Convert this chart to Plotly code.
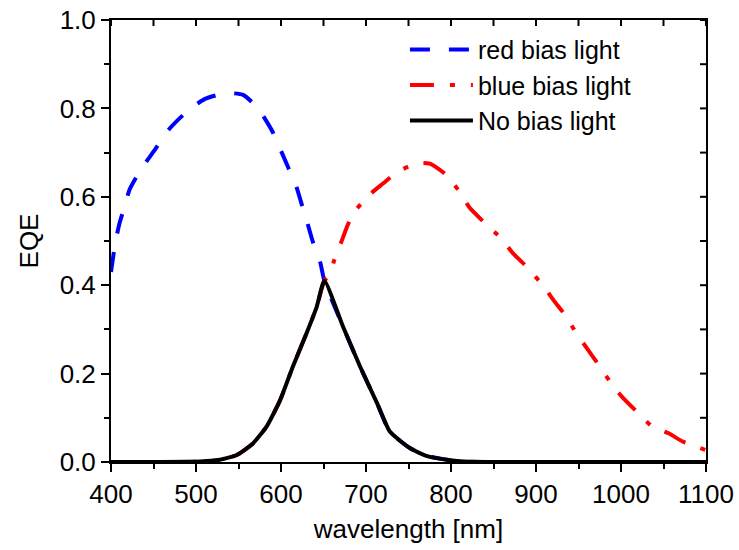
import plotly.graph_objects as go

# ---- data ----
red_bias_x = [400, 405, 410, 416, 422, 436, 450, 467, 486, 510, 531, 545, 556, 573, 589, 598,
              609, 617, 625, 631, 638, 646, 651, 673, 693, 713, 728, 752, 771, 799, 815, 850,
              900, 950, 1000, 1050, 1100]
red_bias_y = [0.43, 0.495, 0.54, 0.578, 0.617, 0.664, 0.702, 0.750, 0.787, 0.821, 0.833, 0.834,
              0.830, 0.800, 0.751, 0.713, 0.664, 0.629, 0.579, 0.541, 0.495, 0.453, 0.41, 0.306,
              0.216, 0.133, 0.069, 0.031, 0.014, 0.004, 0.001, 0.0, 0.0, 0.0, 0.0, 0.0, 0.0]

blue_bias_x = [400, 450, 505, 528, 548, 567, 583, 599, 614, 630, 642, 651, 658, 662, 671, 677,
               685, 705, 720, 736, 760, 775, 793, 811, 822, 838, 860, 873, 890, 909, 921, 934,
               948, 960, 971, 987, 1001, 1019, 1037, 1056, 1073, 1100]
blue_bias_y = [0.0, 0.0, 0.001, 0.005, 0.016, 0.042, 0.080, 0.140, 0.216, 0.291, 0.351, 0.41,
               0.425, 0.453, 0.498, 0.529, 0.563, 0.606, 0.630, 0.655, 0.676, 0.675, 0.652, 0.609,
               0.575, 0.544, 0.504, 0.472, 0.440, 0.397, 0.365, 0.333, 0.290, 0.257, 0.227, 0.182,
               0.148, 0.113, 0.080, 0.065, 0.046, 0.027]

no_bias_x = [400, 450, 505, 528, 548, 567, 583, 599, 614, 630, 642, 651, 673, 693, 713, 728,
             752, 771, 799, 815, 850, 900, 1000, 1100]
no_bias_y = [0.0, 0.0, 0.001, 0.005, 0.016, 0.042, 0.080, 0.140, 0.216, 0.291, 0.351, 0.41,
             0.306, 0.216, 0.133, 0.069, 0.031, 0.014, 0.004, 0.001, 0.0, 0.0, 0.0, 0.0]

x_ticks = [400, 500, 600, 700, 800, 900, 1000, 1100]
y_ticks = [0.0, 0.2, 0.4, 0.6, 0.8, 1.0]
x_mirror_ticks = [400, 450, 500, 550, 600, 650, 700, 750, 800, 850, 900, 950, 1000, 1050, 1100]
y_mirror_ticks = [0.0, 0.1, 0.2, 0.3, 0.4, 0.5, 0.6, 0.7, 0.8, 0.9, 1.0]

FONT = "Arial, Liberation Sans, sans-serif"
PLOT_W, PLOT_H = 595, 442
MIRROR_LEN = 6

fig = go.Figure()
fig.add_trace(go.Scatter(x=red_bias_x, y=red_bias_y, mode="lines", name="red bias light",
                         line=dict(color="#0000ff", width=4, dash="20px,19px",
                                   shape="spline", smoothing=0.6)))
fig.add_trace(go.Scatter(x=blue_bias_x, y=blue_bias_y, mode="lines", name="blue bias light",
                         line=dict(color="#ff0000", width=4, dash="24px,16px,5px,16px",
                                   shape="spline", smoothing=0.6)))
fig.add_trace(go.Scatter(x=no_bias_x, y=no_bias_y, mode="lines", name="No bias light",
                         line=dict(color="#000000", width=4, shape="spline", smoothing=0.5)))

# inward-pointing tick marks on the top and right frame edges, placed via the axis scales
for xv in x_mirror_ticks:
    fig.add_shape(type="line", xref="x", yref="y domain", x0=xv, x1=xv,
                  y0=1.0, y1=1.0 - MIRROR_LEN / PLOT_H, line=dict(color="black", width=2),
                  layer="above")
for yv in y_mirror_ticks:
    fig.add_shape(type="line", xref="x domain", yref="y", y0=yv, y1=yv,
                  x0=1.0, x1=1.0 - MIRROR_LEN / PLOT_W, line=dict(color="black", width=2),
                  layer="above")

axis_common = dict(showgrid=False, zeroline=False, showline=True, linecolor="black", linewidth=2,
                   mirror=True, ticks="outside", ticklen=8, tickwidth=2, tickcolor="black",
                   automargin=False, tickfont=dict(family=FONT, size=26, color="black"))

fig.update_layout(
    width=739, height=550,
    margin=dict(l=111, r=33, t=20, b=88),
    plot_bgcolor="white", paper_bgcolor="white",
    font=dict(family=FONT, size=26, color="black"),
    showlegend=True,
    legend=dict(x=0.494, y=0.985, xanchor="left", yanchor="top", bgcolor="rgba(0,0,0,0)",
                itemwidth=63,
                font=dict(family=FONT, size=25, color="black"), tracegroupgap=0),
    xaxis=dict(range=[400, 1100], tickvals=x_ticks, ticktext=[str(v) for v in x_ticks],
               minor=dict(ticks="outside", dtick=50, ticklen=5, tickwidth=2, tickcolor="black"),
               title=dict(text="wavelength [nm]", font=dict(family=FONT, size=26), standoff=12),
               **axis_common),
    yaxis=dict(range=[0, 1.0], tickvals=y_ticks, ticktext=[f"{v:.1f}" for v in y_ticks],
               minor=dict(ticks="outside", dtick=0.1, ticklen=5, tickwidth=2, tickcolor="black"),
               title=dict(text="EQE", font=dict(family=FONT, size=26), standoff=14),
               **axis_common),
)

fig.write_html("out.html")
